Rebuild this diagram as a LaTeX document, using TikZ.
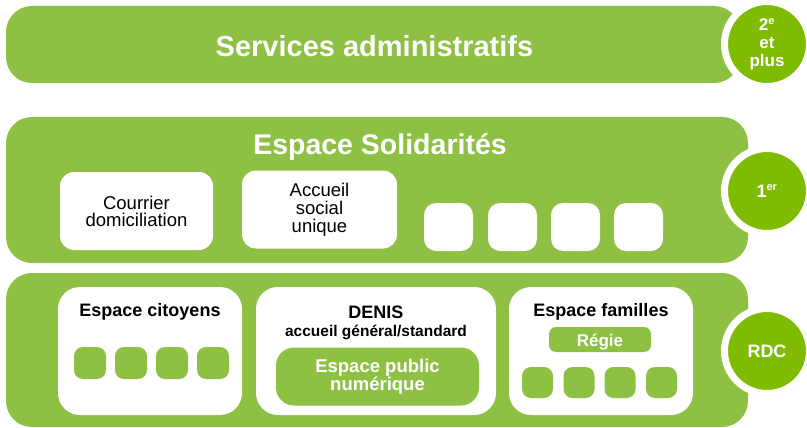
\documentclass[tikz,border=0pt]{standalone}
\usepackage{fontspec}
\setmainfont{Liberation Sans}
\definecolor{leaf}{HTML}{8DC043}
\definecolor{badgegreen}{HTML}{7FBB00}

\begin{document}
\begin{tikzpicture}[%
      x=1pt, y=-1pt,
      panel/.style={fill=leaf, rounded corners=26pt, inner sep=0pt, outer sep=0pt},
      whitebox/.style={fill=white, rounded corners=14pt, inner sep=0pt, align=center},
      bigbox/.style={fill=white, rounded corners=22pt, inner sep=0pt,
        minimum width=184pt, minimum height=128pt},
      tile/.style={fill=white, rounded corners=12pt, inner sep=0pt,
        minimum width=49pt, minimum height=48pt},
      minitile/.style={fill=leaf, rounded corners=9pt, inner sep=0pt,
        minimum width=32pt, minimum height=32pt},
      badge/.style={circle, fill=badgegreen, draw=white, line width=7pt,
        minimum size=85pt, inner sep=0pt, text=white, align=center,
        font=\bfseries\fontsize{17}{18}\selectfont},
      bigtitle/.style={anchor=base, text=white, inner sep=0pt,
        font=\bfseries\fontsize{29}{30}\selectfont},
      boxtitle/.style={anchor=base, inner sep=0pt,
        font=\bfseries\fontsize{18}{20}\selectfont},
      ]
      \useasboundingbox (0,0) rectangle (807,428);

      % 2e et plus
      \node[panel, minimum width=734pt, minimum height=77pt] (admin) at (373,44.5) {};
      \node[bigtitle] (admintitle) at (374.5,57) {Services administratifs};

      % 1er
      \node[panel, minimum width=742pt, minimum height=146pt] (solid) at (377,190) {};
      \node[bigtitle, font=\bfseries\fontsize{28.5}{30}\selectfont] (solidtitle) at (380,154) {Espace Solidarités};
      \node[whitebox, minimum width=153pt, minimum height=78pt,
        font=\fontsize{18.5}{17}\selectfont] (courrier) at (136.5,211) {Courrier\\domiciliation};
      \node[whitebox, minimum width=155pt, minimum height=78pt,
        font=\fontsize{18.5}{18}\selectfont] (accueil) at (319.5,209.5) {Accueil\\social\\unique};
      \foreach \x [count=\i] in {448.5,512.5,575.5,638.5}
        \node[tile] (sol\i) at (\x,227) {};

      % RDC
      \node[panel, minimum width=742pt, minimum height=154pt] (ground) at (377,350) {};

      \node[bigbox] (citoyens) at (150,351) {};
      \node[boxtitle] (citoyenstitle) at (150,316) {Espace citoyens};
      \foreach \x [count=\i] in {90,131,172,213}
        \node[minitile] (cit\i) at (\x,363) {};

      \node[bigbox, minimum width=240pt] (denis) at (376,351) {};
      \node[boxtitle] (denistitle) at (376,318) {DENIS};
      \node[anchor=base, inner sep=0pt, font=\bfseries\fontsize{15.5}{16}\selectfont]
        (standard) at (376,336) {accueil général/standard};
      \node[fill=leaf, rounded corners=18pt, minimum width=203pt, minimum height=58pt,
        inner sep=0pt, text=white, align=center, font=\bfseries\fontsize{18.5}{18}\selectfont]
        (epn) at (377.5,376.5) {Espace public\\numérique};

      \node[bigbox] (familles) at (601,351) {};
      \node[boxtitle] (famillestitle) at (601,316) {Espace familles};
      \node[fill=leaf, rounded corners=7pt, minimum width=102pt, minimum height=25pt,
        inner sep=0pt] (regie) at (600,339.5) {};
      \node[anchor=base, inner sep=0pt, text=white, font=\bfseries\fontsize{17}{18}\selectfont]
        (regietext) at (600,346) {Régie};
      \foreach \x [count=\i] in {537.5,579,620,661.5}
        \node[minitile, minimum width=31pt, minimum height=31pt] (fam\i) at (\x,382.5) {};

      % niveaux
      \node[badge] (lvl2) at (767,44) {2\textsuperscript{\fontsize{11}{11}\selectfont e}\\et\\plus};
      \node[badge, font=\bfseries\fontsize{18}{18}\selectfont] (lvl1) at (767,191)
        {1\textsuperscript{\fontsize{11}{11}\selectfont er}};
      \node[badge, font=\bfseries\fontsize{18}{18}\selectfont] (lvl0) at (767,351) {RDC};
\end{tikzpicture}
\end{document}
